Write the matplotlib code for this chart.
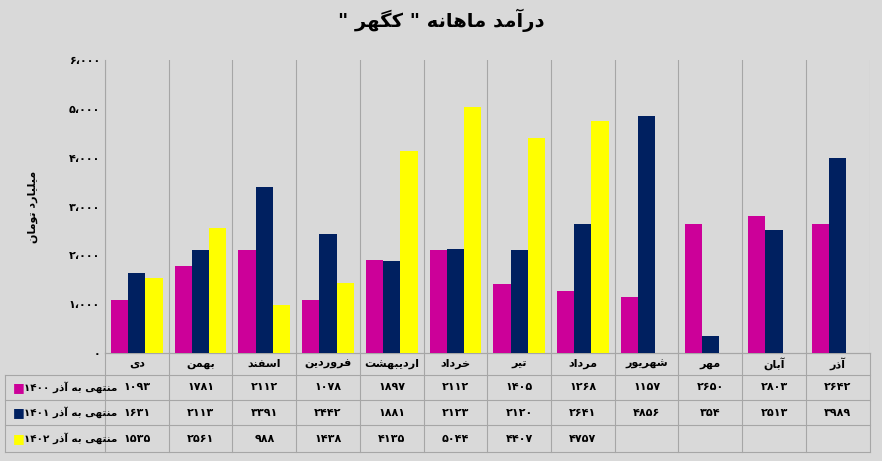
import matplotlib
matplotlib.use("Agg")
import matplotlib.pyplot as plt
import numpy as np

plt.rcParams['font.family'] = ['DejaVu Sans']

categories = ["دی", "بهمن", "اسفند", "فروردین", "اردیبهشت", "خرداد", "تیر", "مرداد", "شهریور", "مهر", "آبان", "آذر"]
s1400 = [1093, 1781, 2112, 1078, 1897, 2112, 1405, 1268, 1157, 2650, 2803, 2642]
s1401 = [1631, 2113, 3391, 2442, 1881, 2123, 2120, 2641, 4856, 354, 2513, 3989]
s1402 = [1535, 2561, 988, 1438, 4135, 5044, 4407, 4757, None, None, None, None]
series_names = ["منتهی به آذر", "منتهی به آذر", "منتهی به آذر"]
series_years = ["1400", "1401", "1402"]
colors = ["#CC0099", "#002060", "#FFFF00"]
title_text = "درآمد ماهانه"
title_word = "کگهر"
ylabel = "میلیارد تومان"
yticks = [0, 1000, 2000, 3000, 4000, 5000, 6000]

FORMS = {
    'ا': (0xFE8D, 0xFE8E, None, None), 'آ': (0xFE81, 0xFE82, None, None),
    'ب': (0xFE8F, 0xFE90, 0xFE91, 0xFE92), 'ت': (0xFE95, 0xFE96, 0xFE97, 0xFE98),
    'خ': (0xFEA5, 0xFEA6, 0xFEA7, 0xFEA8), 'د': (0xFEA9, 0xFEAA, None, None),
    'ذ': (0xFEAB, 0xFEAC, None, None), 'ر': (0xFEAD, 0xFEAE, None, None),
    'ز': (0xFEAF, 0xFEB0, None, None), 'س': (0xFEB1, 0xFEB2, 0xFEB3, 0xFEB4),
    'ش': (0xFEB5, 0xFEB6, 0xFEB7, 0xFEB8), 'ف': (0xFED1, 0xFED2, 0xFED3, 0xFED4),
    'ل': (0xFEDD, 0xFEDE, 0xFEDF, 0xFEE0), 'م': (0xFEE1, 0xFEE2, 0xFEE3, 0xFEE4),
    'ن': (0xFEE5, 0xFEE6, 0xFEE7, 0xFEE8), 'ه': (0xFEE9, 0xFEEA, 0xFEEB, 0xFEEC),
    'و': (0xFEED, 0xFEEE, None, None), 'ی': (0xFBFC, 0xFBFD, 0xFBFE, 0xFBFF),
    'ک': (0xFB8E, 0xFB8F, 0xFB90, 0xFB91), 'گ': (0xFB92, 0xFB93, 0xFB94, 0xFB95),
}

def shape(s):
    out = []
    n = len(s)
    for i, c in enumerate(s):
        if c not in FORMS:
            out.append(c); continue
        f = FORMS[c]
        prev = s[i-1] if i > 0 else None
        nxt = s[i+1] if i < n-1 else None
        jp = prev in FORMS and FORMS[prev][2] is not None
        jn = nxt in FORMS and f[2] is not None
        if jp and jn: code = f[3]
        elif jp: code = f[1]
        elif jn: code = f[2]
        else: code = f[0]
        out.append(chr(code))
    return ''.join(out[::-1])

PD = str.maketrans("0123456789", "۰۱۲۳۴۵۶۷۸۹")
def fa(n):
    return str(n).translate(PD)

bg = "#D9D9D9"
fig = plt.figure(figsize=(8.82, 4.61), dpi=100, facecolor=bg)
ax = fig.add_axes([0.119, 0.234, 0.867, 0.636], facecolor=bg)
n = len(categories)
x = np.arange(n)
w = 0.27
for k, (vals, col) in enumerate(zip([s1400, s1401, s1402], colors)):
    xs = [x[i] + (k - 1) * w for i in range(n) if vals[i] is not None]
    vs = [v for v in vals if v is not None]
    ax.bar(xs, vs, width=w, color=col, zorder=3)
ax.set_xlim(-0.5, n - 0.5)
ax.set_ylim(0, 6000)
ax.set_yticks(yticks)
ax.set_yticklabels([fa(v // 1000) + "،۰۰۰" if v else "۰" for v in yticks], fontsize=8, fontweight='bold')
ax.set_xticks([])
for i in range(n + 1):
    ax.axvline(i - 0.5, color="#A6A6A6", lw=0.8, zorder=1)
for sp in ['top', 'right']:
    ax.spines[sp].set_visible(False)
ax.spines['left'].set_color("#A6A6A6")
ax.spines['bottom'].set_color("#A6A6A6")
ax.tick_params(axis='y', length=0)
ax.set_ylabel(shape(ylabel), fontsize=8, fontweight='bold', labelpad=22)
fig.text(0.5, 0.955, '" ' + shape(title_word) + ' " ' + shape(title_text), ha='center', va='center',
         fontsize=14, fontweight='bold')

# data table
trans = ax.transData
from matplotlib.transforms import blended_transform_factory
tr = blended_transform_factory(ax.transData, fig.transFigure)
def fy(p): return 1 - p / 461
rows_y = [353, 375, 400, 425, 452]
left_x = -0.5 - 100 / 63.75
line_kw = dict(color="#A6A6A6", lw=0.8, transform=tr, clip_on=False)
for yy in rows_y:
    x0 = -0.5 if yy == 353 else left_x
    ax.plot([x0, n - 0.5], [fy(yy), fy(yy)], **line_kw)
for i in range(n + 1):
    ax.plot([i - 0.5, i - 0.5], [fy(353), fy(452)], **line_kw)
ax.plot([left_x, left_x], [fy(375), fy(452)], **line_kw)
for i, c in enumerate(categories):
    ax.text(i, fy(364), shape(c), transform=tr, ha='center', va='center', fontsize=8, fontweight='bold')
for r, vals in enumerate([s1400, s1401, s1402]):
    yc = fy((rows_y[r + 1] + rows_y[r + 2]) / 2)
    for i, v in enumerate(vals):
        if v is not None:
            ax.text(i, yc, fa(v), transform=tr, ha='center', va='center', fontsize=8, fontweight='bold')
    ax.text(left_x + 0.12, yc, "■", transform=tr, ha='left', va='center', fontsize=9, color=colors[r])
    ax.text(left_x + 0.3, yc, fa(series_years[r]) + " " + shape(series_names[r]), transform=tr,
            ha='left', va='center', fontsize=7.5, fontweight='bold')

fig.savefig("out.png", dpi=100, facecolor=bg)
